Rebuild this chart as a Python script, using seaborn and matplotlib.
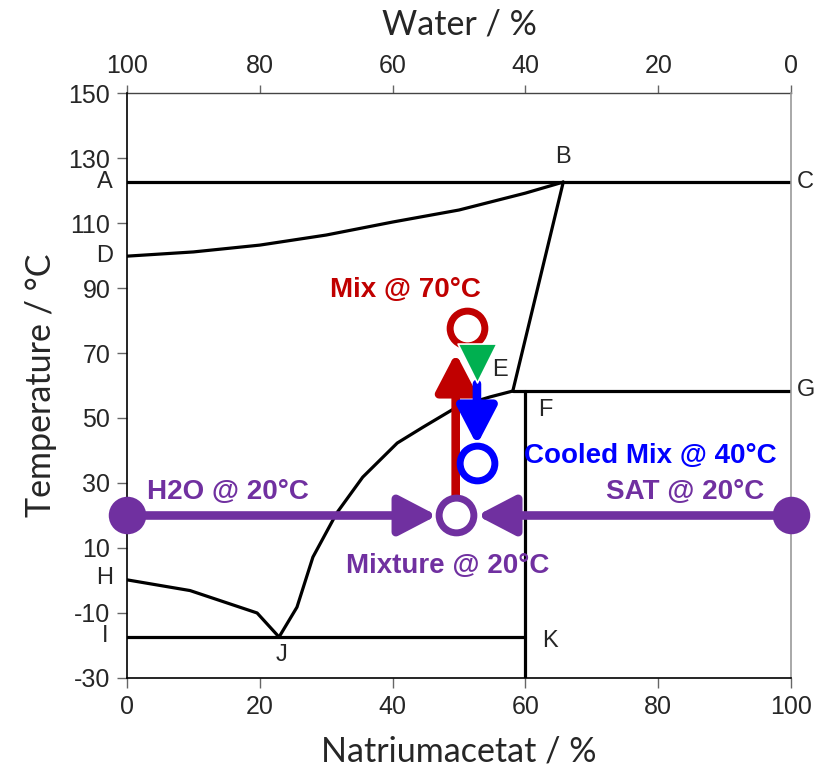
import matplotlib
matplotlib.use("Agg")
import matplotlib.pyplot as plt
import pandas as pd
import seaborn as sns

# phase boundaries: sodium acetate wt% vs temperature (degC)
db_x = [0, 10, 20, 30, 40, 50, 60, 65.7]
db_y = [99.8, 101.1, 103.2, 106.3, 110.3, 114.0, 119.2, 122.6]
be_x = [65.7, 58.1]
be_y = [122.6, 58.3]
je_x = [22.9, 25.6, 28.0, 31.6, 35.5, 40.7, 44.6, 49.7, 54.7, 58.1]
je_y = [-17.4, -8.2, 7.2, 20.8, 31.8, 42.3, 47.2, 53.4, 56.5, 58.3]
hj_x = [0, 9.5, 19.6, 22.9]
hj_y = [0.2, -3.1, -10.0, -17.4]
ac_x, ac_y = [0, 100], [122.6, 122.6]
eg_x, eg_y = [58.1, 100], [58.3, 58.3]
ik_x, ik_y = [0, 60], [-17.4, -17.4]
fk_x, fk_y = [60, 60], [58.3, -30]

pt_names = ["A", "B", "C", "D", "E", "F", "G", "H", "I", "J", "K"]
pt_x = [-3.3, 65.7, 102.1, -3.3, 56.2, 63.0, 102.3, -3.3, -3.3, 23.2, 63.7]
pt_y = [122.6, 130.3, 122.6, 99.8, 64.8, 52.5, 58.6, 0.8, -17.2, -22.9, -18.6]

# states of the mixing experiment
pure_x, pure_y = [0, 100], [20, 20]
mix_x, mix_y = [49.5], [20]
hot_x, hot_y = [51.2], [77.7]
cool_x, cool_y = [52.7], [36.2]
tri_x, tri_y = [52.7], [66.9]

# arrows: (x0, y0, x1, y1, colour)
PURPLE, RED, BLUE, GREEN = "#7030A0", "#C00000", "#0000FF", "#00B050"
arrows = [
    (0, 20, 46.7, 20, PURPLE),
    (100, 20, 52.7, 20, PURPLE),
    (49.5, 20, 49.5, 70.0, RED),
    (52.7, 60.5, 52.7, 41.7, BLUE),
]

labels = [
    ("Mix @ 70°C", 41.9, 89.4, RED),
    ("H2O @ 20°C", 15.2, 27.2, PURPLE),
    ("SAT @ 20°C", 84.0, 27.2, PURPLE),
    ("Cooled Mix @ 40°C", 78.8, 38.3, BLUE),
    ("Mixture @ 20°C", 48.3, 4.5, PURPLE),
]

sns.set_style("white")
plt.rcParams['font.family'] = ['Liberation Sans', 'DejaVu Sans']
plt.rcParams['axes.unicode_minus'] = False

fig = plt.figure(figsize=(8.15, 7.7), dpi=100)
ax = fig.add_axes([0.1558, 0.1195, 0.8148, 0.7597])

segs = [(db_x, db_y), (be_x, be_y), (je_x, je_y), (hj_x, hj_y),
        (ac_x, ac_y), (eg_x, eg_y), (ik_x, ik_y), (fk_x, fk_y)]
for sx, sy in segs:
    sns.lineplot(x=sx, y=sy, sort=False, estimator=None, color="black",
                 linewidth=2.3, ax=ax)

for name, x, y in zip(pt_names, pt_x, pt_y):
    ax.text(x, y, name, fontsize=17, ha="center", va="center", clip_on=False)

for x0, y0, x1, y1, c in arrows:
    ax.annotate("", xy=(x1, y1), xytext=(x0, y0),
                arrowprops=dict(arrowstyle="-|>,head_length=23,head_width=12",
                                mutation_scale=1, color=c, lw=6.2,
                                shrinkA=0, shrinkB=0),
                zorder=3)

sns.scatterplot(x=pure_x, y=pure_y, s=27**2, color=PURPLE, edgecolor=PURPLE,
                linewidth=0, ax=ax, zorder=5, clip_on=False)
sns.scatterplot(x=mix_x, y=mix_y, s=25**2, color="white", edgecolor=PURPLE,
                linewidth=5, ax=ax, zorder=5)
sns.scatterplot(x=hot_x, y=hot_y, s=25**2, color="white", edgecolor=RED,
                linewidth=5, ax=ax, zorder=5)
sns.scatterplot(x=cool_x, y=cool_y, s=25**2, color="white", edgecolor=BLUE,
                linewidth=5, ax=ax, zorder=5)
sns.scatterplot(x=tri_x, y=tri_y, s=28**2, marker="v", color=GREEN,
                edgecolor="white", linewidth=1.2, ax=ax, zorder=6)

for txt, x, y, c in labels:
    ax.text(x, y, txt, color=c, fontsize=20, fontweight="bold",
            ha="center", va="center", zorder=7)

ax.set_xlim(0, 100)
ax.set_ylim(-30, 150)
ax.set_xticks(range(0, 101, 20))
ax.set_yticks(range(-30, 151, 20))
ax.tick_params(labelsize=18, length=7, width=1, direction="out",
               color="#666666", pad=5)
ax.tick_params(axis="x", bottom=True)
ax.tick_params(axis="y", left=True)
for s in ["left", "bottom"]:
    ax.spines[s].set_color("black")
    ax.spines[s].set_linewidth(1.2)
ax.spines["right"].set_color("#999999")
ax.spines["right"].set_linewidth(1.2)
ax.spines["top"].set_visible(False)

lab_font = dict(family=["Lato", "DejaVu Sans"], fontsize=24.5)
ax.set_xlabel("Natriumacetat / %", labelpad=12, **lab_font)
ax.set_ylabel("Temperature / °C", labelpad=8, **lab_font)

sec = ax.secondary_xaxis("top", functions=(lambda v: 100 - v, lambda v: 100 - v))
sec.set_xticks(range(0, 101, 20))
sec.tick_params(labelsize=18, length=6, width=1, color="#666666", pad=5)
sec.spines["top"].set_color("#444444")
sec.spines["top"].set_linewidth(1.0)
sec.set_xlabel("Water / %", labelpad=14, **lab_font)

fig.savefig("out.png", dpi=100)
